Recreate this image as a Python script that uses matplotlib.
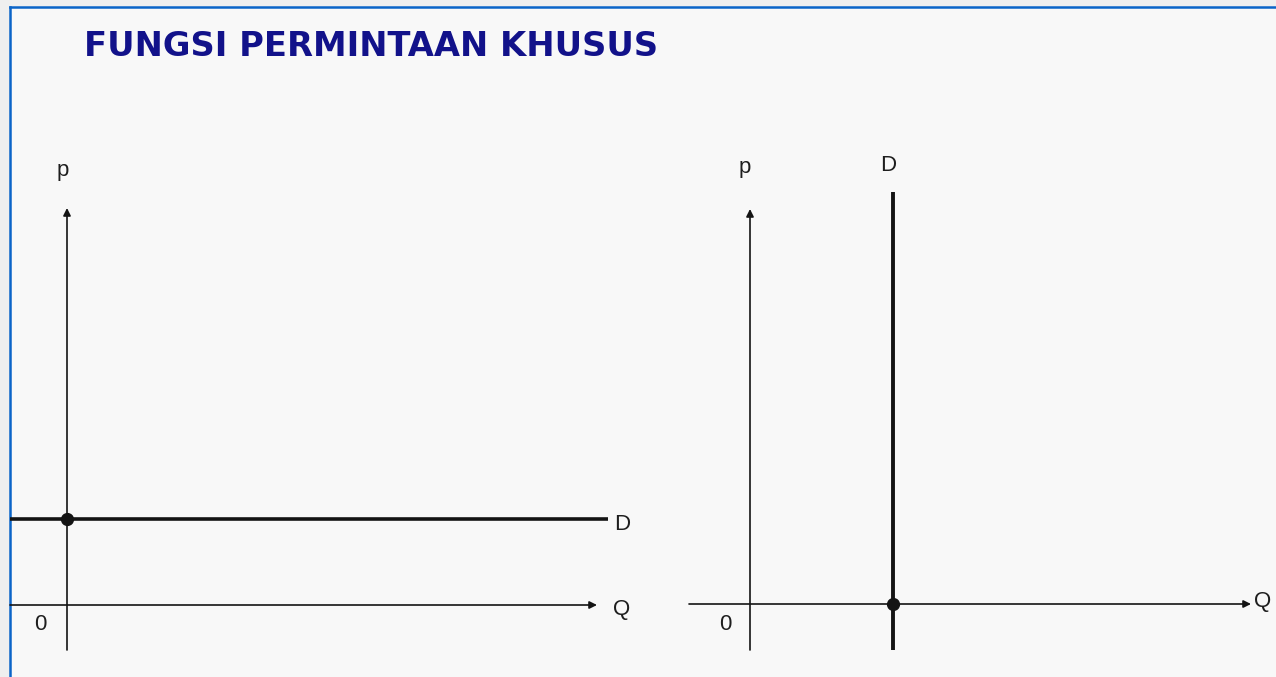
import matplotlib

matplotlib.use("Agg")
import matplotlib.pyplot as plt
from matplotlib.patches import Rectangle
from matplotlib.lines import Line2D

# figure size in pixels, diagram scale (pixels per unit)
FIG_W, FIG_H, DPI = 1276, 677, 100
PX_PER_UNIT = 50

TITLE = "FUNGSI PERMINTAAN KHUSUS"

# left panel: perfectly elastic demand (horizontal D)
left_origin_px = (67, 605)
left_p_axis = (-0.9, 7.94)
left_q_axis = (-1.14, 10.6)
left_demand_price = 1.72
left_demand_q = (-1.14, 10.82)
left_labels = ["p", "0", "Q", "D"]
left_label_x = [-0.08, -0.54, 11.1, 11.1]
left_label_y = [8.7, -0.4, -0.1, 1.6]

# right panel: perfectly inelastic demand (vertical D)
right_origin_px = (750, 604)
right_p_axis = (-0.92, 7.9)
right_q_axis = (-1.22, 10.02)
right_demand_quantity = 2.86
right_demand_p = (-0.92, 8.24)
right_labels = ["p", "D", "0", "Q"]
right_label_x = [-0.1, 2.76, -0.5, 10.26]
right_label_y = [8.72, 8.78, -0.42, 0.04]

INK = "#141414"
LABEL_COLOR = "#1e1e1e"
TITLE_COLOR = "#12128a"
BORDER_COLOR = "#0a64c8"


def panel_axes(fig, origin_px):
    ox, oy = origin_px
    ax = fig.add_axes([0, 0, 1, 1])
    ax.set_xlim(-ox / PX_PER_UNIT, (FIG_W - ox) / PX_PER_UNIT)
    ax.set_ylim(-(FIG_H - oy) / PX_PER_UNIT, oy / PX_PER_UNIT)
    ax.patch.set_alpha(0)
    ax.axis("off")
    return ax


def draw_axes_arrows(ax, p_axis, q_axis):
    arrow = dict(arrowstyle="-|>", lw=1.2, color=INK, mutation_scale=11,
                 shrinkA=0, shrinkB=0)
    ax.annotate("", xy=(0, p_axis[1]), xytext=(0, p_axis[0]), arrowprops=arrow)
    ax.annotate("", xy=(q_axis[1], 0), xytext=(q_axis[0], 0), arrowprops=arrow)


def draw_labels(ax, labels, xs, ys):
    for text, x, y in zip(labels, xs, ys):
        ax.text(x, y, text, ha="center", va="center", fontsize=16,
                family="Liberation Sans", color=LABEL_COLOR)


fig = plt.figure(figsize=(FIG_W / DPI, FIG_H / DPI), dpi=DPI)
fig.patch.set_facecolor("#efefef")

# slide frame: pale panel with blue border on the left and top
bx, by = 10 / FIG_W, 1 - 7 / FIG_H
fig.patches.append(Rectangle((bx, 0), 1 - bx, by, transform=fig.transFigure,
                             facecolor="#f8f8f8", edgecolor="none", zorder=-10))
fig.lines.append(Line2D([bx, bx], [0, by], transform=fig.transFigure,
                        color=BORDER_COLOR, lw=1.8, zorder=-5))
fig.lines.append(Line2D([bx, 1], [by, by], transform=fig.transFigure,
                        color=BORDER_COLOR, lw=1.8, zorder=-5))

fig.text(84 / FIG_W, 1 - 46 / FIG_H, TITLE, ha="left", va="center",
         fontsize=24.3, fontweight="bold", family="DejaVu Sans",
         color=TITLE_COLOR)

# left diagram
ax_l = panel_axes(fig, left_origin_px)
draw_axes_arrows(ax_l, left_p_axis, left_q_axis)
ax_l.plot(left_demand_q, [left_demand_price] * 2, color=INK, lw=2.6,
          solid_capstyle="butt")
ax_l.plot([0], [left_demand_price], "o", color=INK, ms=8.5)
draw_labels(ax_l, left_labels, left_label_x, left_label_y)

# right diagram
ax_r = panel_axes(fig, right_origin_px)
draw_axes_arrows(ax_r, right_p_axis, right_q_axis)
ax_r.plot([right_demand_quantity] * 2, right_demand_p, color=INK, lw=2.8,
          solid_capstyle="butt")
ax_r.plot([right_demand_quantity], [0], "o", color=INK, ms=8.5)
draw_labels(ax_r, right_labels, right_label_x, right_label_y)

fig.savefig("out.png", dpi=DPI, facecolor=fig.get_facecolor())
